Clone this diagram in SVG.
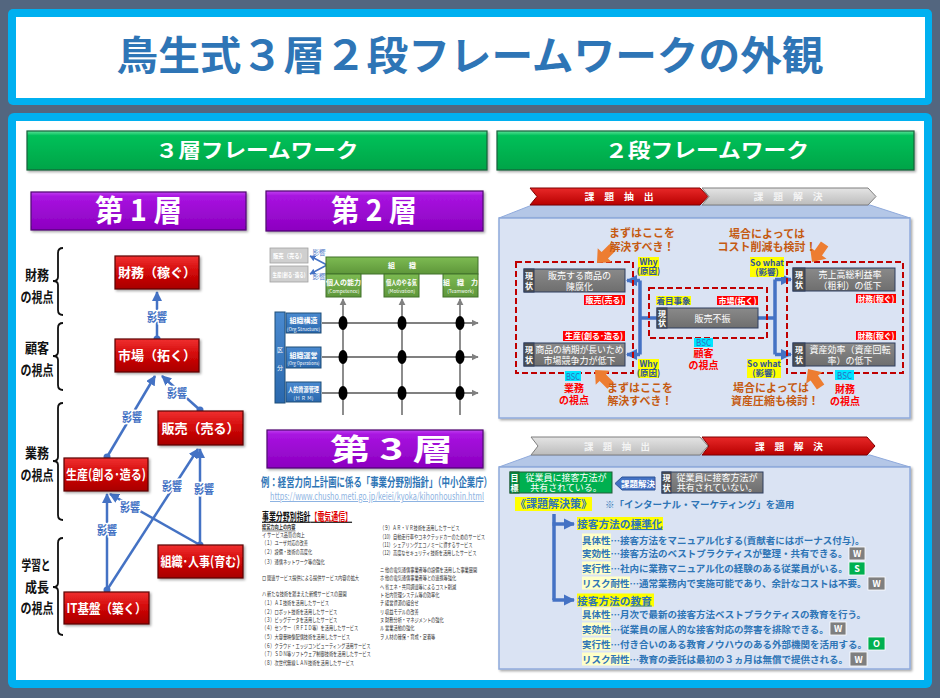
<svg xmlns="http://www.w3.org/2000/svg" width="940" height="698" viewBox="0 0 940 698">
<defs>
<linearGradient id="gPurple" x1="0" y1="0" x2="0" y2="1"><stop offset="0" stop-color="#c040f0"/><stop offset="0.12" stop-color="#a814e0"/><stop offset="1" stop-color="#8c00c0"/></linearGradient>
<linearGradient id="gGreen" x1="0" y1="0" x2="0" y2="1"><stop offset="0" stop-color="#5ce29a"/><stop offset="0.12" stop-color="#00c058"/><stop offset="1" stop-color="#00a448"/></linearGradient>
<linearGradient id="gRed" x1="0" y1="0" x2="0" y2="1"><stop offset="0" stop-color="#f03030"/><stop offset="0.5" stop-color="#d00808"/><stop offset="1" stop-color="#a80000"/></linearGradient>
<linearGradient id="gGray" x1="0" y1="0" x2="0" y2="1"><stop offset="0" stop-color="#8a8a8a"/><stop offset="1" stop-color="#6e6e6e"/></linearGradient>
<linearGradient id="gChevGray" x1="0" y1="0" x2="0" y2="1"><stop offset="0" stop-color="#e4e4e4"/><stop offset="1" stop-color="#bcbcbc"/></linearGradient>
<linearGradient id="gChevRed" x1="0" y1="0" x2="0" y2="1"><stop offset="0" stop-color="#e82828"/><stop offset="1" stop-color="#b80000"/></linearGradient>
<linearGradient id="gOlive" x1="0" y1="0" x2="0" y2="1"><stop offset="0" stop-color="#7dbb52"/><stop offset="1" stop-color="#5e963a"/></linearGradient>
<linearGradient id="gBlue" x1="0" y1="0" x2="0" y2="1"><stop offset="0" stop-color="#4a8ad0"/><stop offset="1" stop-color="#2a68ad"/></linearGradient>
<filter id="sh" x="-10%" y="-10%" width="130%" height="140%"><feDropShadow dx="1.5" dy="1.5" stdDeviation="1" flood-color="#000" flood-opacity="0.35"/></filter>
<marker id="mBlue" viewBox="0 0 10 10" refX="9" refY="5" markerWidth="4" markerHeight="4" orient="auto"><path d="M0,0 L10,5 L0,10 z" fill="#4472c4"/></marker>
<marker id="mBlue2" viewBox="0 0 10 10" refX="9" refY="5" markerWidth="3.2" markerHeight="3.2" orient="auto"><path d="M0,0 L10,5 L0,10 z" fill="#4472c4"/></marker>
<marker id="mGray" viewBox="0 0 10 10" refX="9" refY="5" markerWidth="4" markerHeight="4" orient="auto"><path d="M0,0 L10,5 L0,10 z" fill="#808080"/></marker>
<path id="oarrow" d="M-22,-4.5 H-11 V-10 L0,0 L-11,10 V4.5 H-22 Z" fill="#ed7d31"/>
<style>
text{font-family:"Noto Sans CJK JP","Noto Sans",sans-serif}
.hdr{fill:url(#gGreen);stroke:#17603a;stroke-width:1.2}
.hdrt{fill:#fff;font-size:20px;font-weight:bold;text-anchor:middle}
.pur{fill:url(#gPurple);stroke:#4e0a70;stroke-width:1.2}
.purt{fill:#fff;font-size:30px;font-weight:bold}
.redn{fill:url(#gRed);stroke:#5a0000;stroke-width:1.2}
.rednt{fill:#fff;font-size:13px;font-weight:bold;text-anchor:middle}
.persp{font-size:13.5px;fill:#111;text-anchor:middle;font-weight:bold}
.brace{fill:none;stroke:#111;stroke-width:1.8}
.bl{stroke:#4472c4;stroke-width:2.5;fill:none;marker-end:url(#mBlue)}
.dot{fill:#4472c4}
.inf{fill:#4472c4;font-size:12px;font-weight:bold;text-anchor:middle;stroke:#fff;stroke-width:3;paint-order:stroke}
.gl{stroke:#808080;stroke-width:1.8;fill:none;marker-end:url(#mGray)}
.ell{fill:#000}
.ol{fill:url(#gOlive);stroke:#41702a;stroke-width:1}
.olt{fill:#fff;font-size:7px;font-weight:bold;text-anchor:middle}
.ols{fill:#fff;font-size:4.8px;text-anchor:middle}
.bx{fill:url(#gBlue);stroke:#1f4e79;stroke-width:1}
.lg{fill:#cfcfcf;stroke:#a0a0a0;stroke-width:0.8}
.lgt{fill:#fff;font-size:6px;text-anchor:middle;font-weight:bold}
.ex{fill:#2e75b6;font-size:12.5px;font-weight:bold}
.doc{font-size:6px;fill:#333}
.panel{fill:#dae3f3;stroke:#8faadc;stroke-width:1.5}
.trap{fill:#b4c7e7;stroke:#8faadc;stroke-width:1}
.chevr{fill:url(#gChevRed);stroke:#7f0000;stroke-width:1}
.chevg{fill:url(#gChevGray);stroke:#7f7f7f;stroke-width:1}
.chevt{fill:#fff;font-size:9px;font-weight:bold;text-anchor:middle}
.chevtg{fill:#f4f4f4;font-size:9px;font-weight:bold;text-anchor:middle}
.dash{fill:none;stroke:#c00000;stroke-width:2;stroke-dasharray:6 3}
.gb{fill:url(#gGray);stroke:#2f3f5f;stroke-width:1}
.gseg{fill:#505050;stroke:#2f3f5f;stroke-width:1}
.gt{fill:#fff;font-size:9px;text-anchor:middle}
.gs{fill:#fff;font-size:8px;text-anchor:middle;font-weight:bold}
.conn{stroke:#4472c4;stroke-width:3.5;fill:none}
.conna{stroke:#4472c4;stroke-width:3.5;fill:none;marker-end:url(#mBlue2)}
.ot{fill:#c55a11;font-size:11px;font-weight:bold;text-anchor:middle}
.yl{fill:#ffff00}
.ylt{fill:#2f5597;font-size:8.5px;font-weight:bold;text-anchor:middle}
.rl{fill:#ff0000}
.rlt{fill:#fff;font-size:8.5px;font-weight:bold;text-anchor:middle}
.cy{fill:#00e5ff}
.cyt{fill:#2e6fc0;font-size:9.5px;text-anchor:middle}
.rt{fill:#ff0000;font-size:10px;font-weight:bold;text-anchor:middle}
.bt{fill:#2e75b6;font-size:9.5px;font-weight:bold}
.lab{fill:#ffffc8}
.bdg{stroke:#fff;stroke-width:0.8}
.bdgt{fill:#fff;font-size:9px;font-weight:bold;text-anchor:middle}
</style>
</defs>

<!-- background -->
<rect x="0" y="0" width="940" height="698" fill="#53667f"/>
<rect x="8" y="9" width="924" height="96" rx="5" fill="#00b0f0"/>
<rect x="16" y="17" width="909" height="81" fill="#fff"/>
<g id="title">
<text x="470" y="70" font-size="40" font-weight="bold" fill="#2e75b6" text-anchor="middle" textLength="707" lengthAdjust="spacingAndGlyphs">鳥生式３層２段フレームワークの外観</text>
</g>
<rect x="8" y="113" width="924" height="575" rx="6" fill="#00b0f0"/>
<rect x="16" y="121" width="908" height="559" fill="#fff"/>

<!-- section headers -->
<g id="hdr-3layer"><rect class="hdr" x="27" y="131" width="460" height="39" filter="url(#sh)"/>
<text class="hdrt" x="257" y="158" textLength="203" lengthAdjust="spacingAndGlyphs">３層フレームワーク</text></g>
<g id="hdr-2stage"><rect class="hdr" x="497" y="131" width="417" height="39" filter="url(#sh)"/>
<text class="hdrt" x="707" y="158" textLength="204" lengthAdjust="spacingAndGlyphs">２段フレームワーク</text></g>

<!-- ===== Layer 1 ===== -->
<g id="layer1-header"><rect class="pur" x="31" y="192" width="215" height="38" filter="url(#sh)"/>
<text class="purt" x="95" y="221" textLength="87" lengthAdjust="spacingAndGlyphs">第 1 層</text></g>

<g id="persp-finance">
<path class="brace" d="M63,248 Q58,248 58,253 V277 Q58,281 53,281 Q58,281 58,285 V310 Q58,315 63,315"/>
<text class="persp" x="37" y="280" textLength="24" lengthAdjust="spacingAndGlyphs">財務</text>
<text class="persp" x="37" y="302" textLength="33" lengthAdjust="spacingAndGlyphs">の視点</text></g>
<g id="persp-customer">
<path class="brace" d="M63,323 Q58,323 58,328 V352 Q58,356 53,356 Q58,356 58,360 V385 Q58,390 63,390"/>
<text class="persp" x="37" y="353" textLength="24" lengthAdjust="spacingAndGlyphs">顧客</text>
<text class="persp" x="37" y="375" textLength="33" lengthAdjust="spacingAndGlyphs">の視点</text></g>
<g id="persp-process">
<path class="brace" d="M63,403 Q58,403 58,408 V457 Q58,461 53,461 Q58,461 58,465 V515 Q58,520 63,520"/>
<text class="persp" x="37" y="458" textLength="24" lengthAdjust="spacingAndGlyphs">業務</text>
<text class="persp" x="37" y="480" textLength="33" lengthAdjust="spacingAndGlyphs">の視点</text></g>
<g id="persp-learning">
<path class="brace" d="M63,538 Q58,538 58,543 V583 Q58,587 53,587 Q58,587 58,591 V630 Q58,635 63,635"/>
<text class="persp" x="36" y="570" textLength="29" lengthAdjust="spacingAndGlyphs">学習と</text>
<text class="persp" x="37" y="592" textLength="24" lengthAdjust="spacingAndGlyphs">成長</text>
<text class="persp" x="37" y="613" textLength="33" lengthAdjust="spacingAndGlyphs">の視点</text></g>

<!-- ===== Layer 2 ===== -->
<g id="layer2-header"><rect class="pur" x="266" y="191" width="217" height="40" filter="url(#sh)"/>
<text class="purt" x="331" y="221" textLength="86" lengthAdjust="spacingAndGlyphs">第 2 層</text></g>

<!-- ===== Layer 3 ===== -->
<g id="layer3-header"><rect class="pur" x="267" y="430" width="216" height="38" filter="url(#sh)"/>
<text class="purt" x="330" y="460" textLength="123" lengthAdjust="spacingAndGlyphs">第 3 層</text></g>
<g id="layer3-example">
<text class="ex" x="261" y="487" textLength="231" lengthAdjust="spacingAndGlyphs">例：経営力向上計画に係る「事業分野別指針」（中小企業庁）</text>
<text x="270" y="500" font-size="10" fill="#8db3e2" text-decoration="underline" textLength="214" lengthAdjust="spacingAndGlyphs">https://www.chusho.meti.go.jp/keiei/kyoka/kihonhoushin.html</text>
</g>
<g id="layer3-doc">
<g transform="translate(262,520.5) scale(0.63,1)">
<text x="0" y="0" font-size="11" font-weight="bold" text-decoration="underline"><tspan fill="#111">事業分野別指針</tspan><tspan fill="#e00000">【電気通信】</tspan></text>
</g>
<g transform="translate(262,0) scale(0.7,1)" class="doc">
<text x="0" y="529.5" font-weight="bold" text-decoration="underline">経営力向上の内容</text>
<text x="0" y="537">イ サービス品質の向上</text>
<text x="0" y="545.5">（１）ユーザ対応の改善</text>
<text x="0" y="554.5">（２）設備・技術の高度化</text>
<text x="0" y="564">（３）通信ネットワーク等の強化</text>
<text x="0" y="580.5">ロ 関連サービス提供による提供サービス内容の拡大</text>
<text x="0" y="596">ハ 新たな技術を踏まえた新規サービスの展開</text>
<text x="0" y="605.5">（１）ＡＩ技術を活用したサービス</text>
<text x="0" y="614">（２）ロボット技術を活用したサービス</text>
<text x="0" y="622.5">（３）ビッグデータを活用したサービス</text>
<text x="0" y="630.5">（４）センサー（ＲＦＩＤ等）を活用したサービス</text>
<text x="0" y="639.5">（５）大容量映像配信技術を活用したサービス</text>
<text x="0" y="648">（６）クラウド・エッジコンピューティング活用サービス</text>
<text x="0" y="656.5">（７）ＳＤＮ等ソフトウェア制御技術を活用したサービス</text>
<text x="0" y="665.5">（８）次世代無線ＬＡＮ技術を活用したサービス</text>
</g>
<g transform="translate(380,0) scale(0.7,1)" class="doc">
<text x="0" y="530.5">（９）ＡＲ・ＶＲ技術を活用したサービス</text>
<text x="0" y="539">（10）自動走行車やコネクテッドカーのためのサービス</text>
<text x="0" y="547">（11）シェアリングエコノミーに資するサービス</text>
<text x="0" y="555.5">（12）高度なセキュリティ技術を活用したサービス</text>
<text x="0" y="572">ニ 他の電気通信事業者等の設備を活用した事業展開</text>
<text x="0" y="580.5">ホ 他の電気通信事業者等との連携等強化</text>
<text x="0" y="589">ヘ 省エネ・共同調達等によるコスト削減</text>
<text x="0" y="597">ト 社内管理システム等の効率化</text>
<text x="0" y="605.5">チ 経営資源の組合せ</text>
<text x="0" y="614">リ 収益モデルの改善</text>
<text x="0" y="622">ヌ 財務分析・マネジメントの強化</text>
<text x="0" y="630.5">ル 営業活動の強化</text>
<text x="0" y="639">ヲ 人材の確保・育成・定着等</text>
</g>
</g>

<!-- ===== 2-stage panels ===== -->
<g id="stage1-bg">
<polygon class="trap" points="532,205 870,205 910,218 499,218"/>
<rect class="panel" x="499" y="218" width="411" height="200" filter="url(#sh)"/>
</g>
<g id="stage2-bg">
<polygon class="trap" points="532,455 870,455 910,467 499,467"/>
<rect class="panel" x="499" y="467" width="411" height="202" filter="url(#sh)"/>
</g>

<!-- ===== connectors ===== -->
<g id="connectors">
<!-- layer 1 -->
<path class="bl" d="M157,339 L157,292"/>
<path class="bl" d="M107,457 L155,376"/>
<path class="bl" d="M200,410 L162,376"/>
<path class="bl" d="M107,590 L107,494"/>
<path class="bl" d="M107,590 L198,449"/>
<path class="bl" d="M200,545 L200,449"/>
<path class="bl" d="M200,545 L110,494"/>
<circle class="dot" cx="157" cy="339" r="3.5"/>
<circle class="dot" cx="107" cy="457" r="3.5"/>
<circle class="dot" cx="200" cy="410" r="3.5"/>
<circle class="dot" cx="107" cy="590" r="3.5"/>
<circle class="dot" cx="200" cy="545" r="3.5"/>
<text class="inf" x="157" y="322" textLength="20" lengthAdjust="spacingAndGlyphs">影響</text>
<text class="inf" x="132" y="422" textLength="20" lengthAdjust="spacingAndGlyphs">影響</text>
<text class="inf" x="177" y="398" textLength="20" lengthAdjust="spacingAndGlyphs">影響</text>
<text class="inf" x="107" y="535" textLength="20" lengthAdjust="spacingAndGlyphs">影響</text>
<text class="inf" x="172" y="491" textLength="20" lengthAdjust="spacingAndGlyphs">影響</text>
<text class="inf" x="204" y="494" textLength="20" lengthAdjust="spacingAndGlyphs">影響</text>
<text class="inf" x="130" y="512" textLength="20" lengthAdjust="spacingAndGlyphs">影響</text>
<!-- layer 2 -->
<path d="M327,265 L310,256" stroke="#4472c4" stroke-width="1.5" fill="none" marker-end="url(#mBlue)"/>
<path d="M327,265 L310,274" stroke="#4472c4" stroke-width="1.5" fill="none" marker-end="url(#mBlue)"/>
<text x="319" y="255" font-size="6.5" fill="#4472c4" text-anchor="middle">影響</text>
<text x="319" y="279" font-size="6.5" fill="#4472c4" text-anchor="middle">影響</text>
<path class="gl" d="M343,415 V299"/>
<path class="gl" d="M402,415 V299"/>
<path class="gl" d="M460,415 V299"/>
<path class="gl" d="M322,323 H478"/>
<path class="gl" d="M322,357 H478"/>
<path class="gl" d="M322,393 H478"/>
<!-- stage 1 -->
<path class="conn" d="M657,318 H640 M640,280.5 V354.5"/>
<path class="conna" d="M640,280.5 H627"/>
<path class="conna" d="M640,354.5 H627"/>
<path class="conn" d="M758,318 H775 M775,279.5 V354.5"/>
<path class="conna" d="M775,279.5 H791"/>
<path class="conna" d="M775,354.5 H791"/>
<!-- stage 2 -->
<path class="conn" d="M554,514 V600"/>
<path class="conna" d="M552.5,524 H574"/>
<path class="conna" d="M552.5,600 H574"/>
</g>

<!-- ===== Layer 1 nodes ===== -->
<g id="n-finance"><rect class="redn" x="115" y="256" width="84" height="33" filter="url(#sh)"/>
<text class="rednt" x="157" y="277" textLength="78" lengthAdjust="spacingAndGlyphs">財務（稼ぐ）</text></g>
<g id="n-market"><rect class="redn" x="115" y="339" width="84" height="33" filter="url(#sh)"/>
<text class="rednt" x="157" y="360" textLength="78" lengthAdjust="spacingAndGlyphs">市場（拓く）</text></g>
<g id="n-sales"><rect class="redn" x="158" y="411" width="85" height="34" filter="url(#sh)"/>
<text class="rednt" x="200.5" y="432.5" textLength="78" lengthAdjust="spacingAndGlyphs">販売（売る）</text></g>
<g id="n-production"><rect class="redn" x="64" y="458" width="84" height="33" filter="url(#sh)"/>
<text class="rednt" x="106" y="479" textLength="80" lengthAdjust="spacingAndGlyphs">生産(創る･造る)</text></g>
<g id="n-org"><rect class="redn" x="158" y="545" width="85" height="33" filter="url(#sh)"/>
<text class="rednt" x="200.5" y="566" textLength="80" lengthAdjust="spacingAndGlyphs">組織･人事(育む)</text></g>
<g id="n-it"><rect class="redn" x="64" y="592" width="85" height="32" filter="url(#sh)"/>
<text class="rednt" x="106.5" y="612.5" textLength="80" lengthAdjust="spacingAndGlyphs">IT基盤（築く）</text></g>

<!-- ===== Layer 2 nodes ===== -->
<g id="l2-sales"><rect class="lg" x="270" y="248" width="38" height="15"/>
<text class="lgt" x="289" y="258" textLength="32" lengthAdjust="spacingAndGlyphs">販売（売る）</text></g>
<g id="l2-production"><rect class="lg" x="270" y="266" width="38" height="16"/>
<text class="lgt" x="289" y="276.5" textLength="33" lengthAdjust="spacingAndGlyphs">生産(創る･造る)</text></g>
<g id="l2-org"><rect class="ol" x="326" y="257" width="152" height="17"/>
<text class="olt" x="402" y="268">組　　織</text></g>
<g id="l2-competence"><rect class="ol" x="326" y="274" width="35" height="23"/>
<text class="olt" x="343.5" y="284.5">個人の能力</text><text class="ols" x="343.5" y="293">(Competence)</text></g>
<g id="l2-motivation"><rect class="ol" x="384" y="274" width="35" height="23"/>
<text class="olt" x="401.5" y="284.5" textLength="31" lengthAdjust="spacingAndGlyphs">個人のやる気</text><text class="ols" x="401.5" y="293">(Motivation)</text></g>
<g id="l2-teamwork"><rect class="ol" x="443" y="274" width="35" height="23"/>
<text class="olt" x="460.5" y="284.5">組　織　力</text><text class="ols" x="460.5" y="293">(Teamwork)</text></g>
<g id="l2-grid-dots">
<ellipse class="ell" cx="343" cy="323" rx="4.5" ry="7"/><ellipse class="ell" cx="402" cy="323" rx="4.5" ry="7"/><ellipse class="ell" cx="460" cy="323" rx="4.5" ry="7"/>
<ellipse class="ell" cx="343" cy="357" rx="4.5" ry="7"/><ellipse class="ell" cx="402" cy="357" rx="4.5" ry="7"/><ellipse class="ell" cx="460" cy="357" rx="4.5" ry="7"/>
<ellipse class="ell" cx="343" cy="393" rx="4.5" ry="7"/><ellipse class="ell" cx="402" cy="393" rx="4.5" ry="7"/><ellipse class="ell" cx="460" cy="393" rx="4.5" ry="7"/>
</g>
<g id="l2-division"><rect class="bx" x="275" y="312" width="10" height="91"/>
<text x="280" y="352" font-size="6" fill="#fff" text-anchor="middle">区</text>
<text x="280" y="370" font-size="6" fill="#fff" text-anchor="middle">分</text></g>
<g id="l2-structure"><rect class="bx" x="286" y="313" width="35" height="20"/>
<text class="olt" x="303.5" y="323">組織構造</text><text class="ols" x="303.5" y="330.5">(Org Structure)</text></g>
<g id="l2-operations"><rect class="bx" x="286" y="347" width="35" height="21"/>
<text class="olt" x="303.5" y="357.5">組織運営</text><text class="ols" x="303.5" y="365" textLength="32" lengthAdjust="spacingAndGlyphs">(Org Operations)</text></g>
<g id="l2-hrm"><rect class="bx" x="286" y="382" width="35" height="20"/>
<text class="olt" x="303.5" y="392" textLength="31" lengthAdjust="spacingAndGlyphs">人的資源管理</text><text class="ols" x="303.5" y="399.5">(Ｈ Ｒ Ｍ)</text></g>

<!-- ===== Stage 1 (課題抽出) ===== -->
<g id="s1-chev-extract"><polygon class="chevr" points="530,188 700,188 708,196.5 700,205 530,205 537,196.5"/>
<text class="chevt" x="619" y="200" textLength="69" lengthAdjust="spacingAndGlyphs">課　題　抽　出</text></g>
<g id="s1-chev-solve"><polygon class="chevg" points="702,188 868,188 876,196.5 868,205 702,205 709,196.5"/>
<text class="chevtg" x="788" y="200" textLength="69" lengthAdjust="spacingAndGlyphs">課　題　解　決</text></g>

<g id="s1-left-group">
<rect class="dash" x="516" y="262" width="117" height="111"/>
<use href="#oarrow" transform="translate(597,263) rotate(135)"/>
<use href="#oarrow" transform="translate(595,370) rotate(-135)"/>
<text class="ot" x="642" y="237">まずはここを</text>
<text class="ot" x="642" y="251">解決すべき！</text>
<text class="ot" x="640" y="392">まずはここを</text>
<text class="ot" x="640" y="405">解決すべき！</text>
<rect class="yl" x="638" y="257" width="21" height="19"/>
<text class="ylt" x="648.5" y="265">Why</text><text class="ylt" x="648.5" y="274">(原因)</text>
<rect class="yl" x="638" y="359" width="21" height="19"/>
<text class="ylt" x="648.5" y="367">Why</text><text class="ylt" x="648.5" y="376">(原因)</text>
<rect class="rl" x="584" y="295" width="41" height="10"/><text class="rlt" x="604.5" y="303" textLength="38" lengthAdjust="spacingAndGlyphs">販売(売る)</text>
<rect class="rl" x="563" y="331" width="62" height="10"/><text class="rlt" x="594" y="339" textLength="58" lengthAdjust="spacingAndGlyphs">生産(創る･造る)</text>
<rect class="cy" x="565" y="371" width="16" height="10"/><text class="cyt" x="573" y="379.5" textLength="14" lengthAdjust="spacingAndGlyphs">BSC</text>
<text class="rt" x="574" y="392">業務</text><text class="rt" x="574" y="404">の視点</text>
</g>
<g id="s1-box-obsolete"><rect class="gb" x="524" y="269" width="101" height="23"/><rect class="gseg" x="524" y="269" width="10" height="23"/>
<text class="gs" x="529" y="279">現</text><text class="gs" x="529" y="289">状</text>
<text class="gt" x="579.5" y="279">販売する商品の</text><text class="gt" x="579.5" y="290">陳腐化</text></g>
<g id="s1-box-leadtime"><rect class="gb" x="524" y="343" width="101" height="23"/><rect class="gseg" x="524" y="343" width="10" height="23"/>
<text class="gs" x="529" y="353">現</text><text class="gs" x="529" y="363">状</text>
<text class="gt" x="579.5" y="353" textLength="88" lengthAdjust="spacingAndGlyphs">商品の納期が長いため</text><text class="gt" x="579.5" y="364">市場競争力が低下</text></g>

<g id="s1-center-group">
<rect class="dash" x="649" y="288" width="118" height="50"/>
<rect class="yl" x="656" y="296" width="35" height="9"/><text class="ylt" x="673.5" y="303.5" fill="#7f6000">着目事象</text>
<rect class="rl" x="717" y="296" width="41" height="9"/><text class="rlt" x="737.5" y="303.5" textLength="38" lengthAdjust="spacingAndGlyphs">市場(拓く)</text>
<rect class="cy" x="694" y="338" width="19" height="9"/><text class="cyt" x="703.5" y="346" textLength="15" lengthAdjust="spacingAndGlyphs">BSC</text>
<text class="rt" x="703.5" y="357">顧客</text><text class="rt" x="703.5" y="369">の視点</text>
</g>
<g id="s1-box-slump"><rect class="gb" x="657" y="308" width="101" height="20"/><rect class="gseg" x="657" y="308" width="10" height="20"/>
<text class="gs" x="662" y="317" font-size="7.5">現</text><text class="gs" x="662" y="326" font-size="7.5">状</text>
<text class="gt" x="712.5" y="321.5">販売不振</text></g>

<g id="s1-right-group">
<rect class="dash" x="787" y="262" width="116" height="111"/>
<use href="#oarrow" transform="translate(812,262) rotate(125)"/>
<use href="#oarrow" transform="translate(808,369) rotate(-125)"/>
<text class="ot" x="767" y="238">場合によっては</text>
<text class="ot" x="767" y="251">コスト削減も検討！</text>
<text class="ot" x="771" y="392">場合によっては</text>
<text class="ot" x="775" y="405">資産圧縮も検討！</text>
<rect class="yl" x="750" y="257" width="34" height="20"/>
<text class="ylt" x="767" y="265.5">So what</text><text class="ylt" x="767" y="275">(影響)</text>
<rect class="yl" x="747" y="359" width="34" height="19"/>
<text class="ylt" x="764" y="367">So what</text><text class="ylt" x="764" y="376">(影響)</text>
<rect class="rl" x="856" y="294" width="40" height="9"/><text class="rlt" x="876" y="301.5" textLength="37" lengthAdjust="spacingAndGlyphs">財務(稼ぐ)</text>
<rect class="rl" x="856" y="331" width="40" height="9"/><text class="rlt" x="876" y="338.5" textLength="37" lengthAdjust="spacingAndGlyphs">財務(稼ぐ)</text>
<rect class="cy" x="835" y="370" width="19" height="10"/><text class="cyt" x="844.5" y="378.5" textLength="15" lengthAdjust="spacingAndGlyphs">BSC</text>
<text class="rt" x="845" y="393">財務</text><text class="rt" x="845" y="405">の視点</text>
</g>
<g id="s1-box-grossprofit"><rect class="gb" x="793" y="268" width="102" height="23"/><rect class="gseg" x="793" y="268" width="12" height="23"/>
<text class="gs" x="799" y="278">現</text><text class="gs" x="799" y="288">状</text>
<text class="gt" x="850" y="278">売上高総利益率</text><text class="gt" x="850" y="289">（粗利）の低下</text></g>
<g id="s1-box-assets"><rect class="gb" x="793" y="343" width="102" height="23"/><rect class="gseg" x="793" y="343" width="12" height="23"/>
<text class="gs" x="799" y="353">現</text><text class="gs" x="799" y="363">状</text>
<text class="gt" x="850" y="353">資産効率（資産回転</text><text class="gt" x="850" y="364">率）の低下</text></g>

<!-- ===== Stage 2 (課題解決) ===== -->
<g id="s2-chev-extract"><polygon class="chevg" points="531,437 700,437 708,446 700,455 531,455 538,446"/>
<text class="chevtg" x="617" y="449.5" textLength="66" lengthAdjust="spacingAndGlyphs">課　題　抽　出</text></g>
<g id="s2-chev-solve"><polygon class="chevr" points="702,437 867,437 875,446 867,455 702,455 709,446"/>
<text class="chevt" x="789" y="449.5" textLength="68" lengthAdjust="spacingAndGlyphs">課　題　解　決</text></g>

<g id="s2-goal"><rect x="510" y="472" width="102" height="21" fill="#00b050" stroke="#1e5e36" stroke-width="1"/>
<rect x="510" y="472" width="9" height="21" fill="#008a3c" stroke="#1e5e36" stroke-width="1"/>
<text class="gs" x="514.5" y="481">目</text><text class="gs" x="514.5" y="491">標</text>
<text class="gt" x="566" y="481">従業員に接客方法が</text><text class="gt" x="566" y="491">共有されている。</text></g>
<g id="s2-solve-tag"><polygon points="615,483.5 622,477 655,477 655,490 622,490" fill="#4472c4" stroke="#2f5597" stroke-width="1"/>
<text x="638" y="487" font-size="8.5" fill="#fff" text-anchor="middle" font-weight="bold">課題解決</text></g>
<g id="s2-current"><rect class="gb" x="662" y="472" width="101" height="21"/><rect class="gseg" x="662" y="472" width="9" height="21"/>
<text class="gs" x="666.5" y="481">現</text><text class="gs" x="666.5" y="491">状</text>
<text class="gt" x="717" y="481">従業員に接客方法が</text><text class="gt" x="717" y="491">共有されていない。</text></g>

<g id="s2-measures">
<rect class="yl" x="515" y="497" width="77" height="14"/>
<text x="553.5" y="508" font-size="11" fill="#2e75b6" font-weight="bold" text-anchor="middle">《課題解決策》</text>
<text class="bt" x="605" y="508" font-size="9.6">※「インターナル・マーケティング」を適用</text>
</g>
<g id="s2-standardize">
<rect class="yl" x="577" y="517" width="86" height="13"/>
<text x="577" y="528" font-size="10.7" fill="#2e75b6" font-weight="bold">接客方法の<tspan text-decoration="underline">標準化</tspan></text>
<rect class="lab" x="582" y="533.5" width="29" height="13"/><text class="bt" x="582" y="543.5">具体性…接客方法をマニュアル化する(貢献者にはボーナス付与)。</text>
<rect class="lab" x="582" y="546.5" width="29" height="13"/><text class="bt" x="582" y="556.5">実効性…接客方法のベストプラクティスが整理・共有できる。</text>
<rect class="lab" x="582" y="561.5" width="29" height="13"/><text class="bt" x="582" y="571.5">実行性…社内に業務マニュアル化の経験のある従業員がいる。</text>
<rect class="lab" x="582" y="576.5" width="48" height="13"/><text class="bt" x="582" y="586.5">リスク耐性…通常業務内で実施可能であり、余計なコストは不要。</text>
<rect class="bdg" x="849" y="547" width="16" height="13" fill="#7f7f7f"/><text class="bdgt" x="857" y="557">W</text>
<rect class="bdg" x="849" y="562" width="16" height="13" fill="#00b050"/><text class="bdgt" x="857" y="572">S</text>
<rect class="bdg" x="868" y="577" width="17" height="13" fill="#7f7f7f"/><text class="bdgt" x="876.5" y="587">W</text>
</g>
<g id="s2-education">
<rect class="yl" x="577" y="593.5" width="77" height="13"/>
<text x="577" y="604.5" font-size="10.7" fill="#2e75b6" font-weight="bold">接客方法の<tspan text-decoration="underline">教育</tspan></text>
<rect class="lab" x="582" y="607.5" width="29" height="13"/><text class="bt" x="582" y="617.5">具体性…月次で最新の接客方法ベストプラクティスの教育を行う。</text>
<rect class="lab" x="582" y="622.5" width="29" height="13"/><text class="bt" x="582" y="632.5">実効性…従業員の属人的な接客対応の弊害を排除できる。</text>
<rect class="lab" x="582" y="637.5" width="29" height="13"/><text class="bt" x="582" y="647.5">実行性…付き合いのある教育ノウハウのある外部機関を活用する。</text>
<rect class="lab" x="582" y="652.5" width="48" height="13"/><text class="bt" x="582" y="662.5">リスク耐性…教育の委託は最初の３ヵ月は無償で提供される。</text>
<rect class="bdg" x="830" y="622" width="16" height="13" fill="#7f7f7f"/><text class="bdgt" x="838" y="632">W</text>
<rect class="bdg" x="868" y="637" width="17" height="13" fill="#00b050"/><text class="bdgt" x="876.5" y="647">O</text>
<rect class="bdg" x="850" y="652" width="17" height="14" fill="#7f7f7f"/><text class="bdgt" x="858.5" y="662.5">W</text>
</g>
</svg>
